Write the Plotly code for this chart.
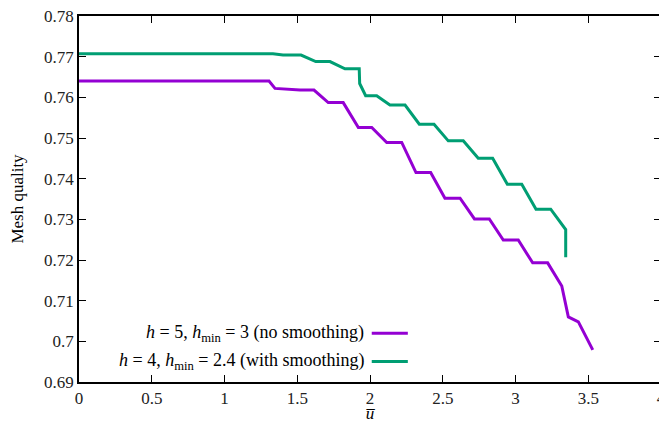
import plotly.graph_objects as go

# h = 5, hmin = 3 (no smoothing)
u_a = [0.0, 1.306, 1.347, 1.519, 1.615, 1.713, 1.816, 1.920, 2.012, 2.115, 2.218,
       2.316, 2.417, 2.515, 2.619, 2.718, 2.820, 2.916, 3.019, 3.118, 3.221,
       3.318, 3.363, 3.432, 3.531]
q_a = [0.7640, 0.7640, 0.7622, 0.7618, 0.7618, 0.7587, 0.7587, 0.7526, 0.7526,
       0.7489, 0.7489, 0.7415, 0.7415, 0.7352, 0.7352, 0.7301, 0.7301, 0.7249,
       0.7249, 0.7193, 0.7193, 0.7136, 0.7060, 0.7048, 0.6979]

# h = 4, hmin = 2.4 (with smoothing)
u_b = [0.0, 1.333, 1.402, 1.526, 1.627, 1.725, 1.828, 1.926, 1.929, 1.970, 2.046,
       2.137, 2.241, 2.339, 2.440, 2.538, 2.641, 2.744, 2.843, 2.944, 3.043,
       3.141, 3.242, 3.345, 3.345]
q_b = [0.7707, 0.7707, 0.7704, 0.7704, 0.7688, 0.7688, 0.7670, 0.7670, 0.7634,
       0.7604, 0.7604, 0.7581, 0.7581, 0.7534, 0.7534, 0.7493, 0.7493, 0.7450,
       0.7450, 0.7386, 0.7386, 0.7325, 0.7325, 0.7275, 0.7207]

names = ["<i>h</i> = 5, <i>h</i><sub>min</sub> = 3 (no smoothing)",
         "<i>h</i> = 4, <i>h</i><sub>min</sub> = 2.4 (with smoothing)"]
colors = ["#9400D3", "#009E73"]

x_ticks = [0, 0.5, 1, 1.5, 2, 2.5, 3, 3.5, 4]
x_labels = ["0", "0.5", "1", "1.5", "2", "2.5", "3", "3.5", "4"]
y_ticks = [0.69, 0.70, 0.71, 0.72, 0.73, 0.74, 0.75, 0.76, 0.77, 0.78]
y_labels = ["0.69", "0.7", "0.71", "0.72", "0.73", "0.74", "0.75", "0.76", "0.77", "0.78"]

FONT = "Liberation Serif"
FS = 17

fig = go.Figure()
for xs, ys, c in [(u_a, q_a, colors[0]), (u_b, q_b, colors[1])]:
    fig.add_trace(go.Scatter(x=xs, y=ys, mode="lines",
                             line=dict(color=c, width=3), showlegend=False))

# custom legend: text right-aligned, sample line to the right
for i, (nm, c) in enumerate(zip(names, colors)):
    ypos = 0.133 - i * 0.077
    fig.add_annotation(text=nm, xref="paper", yref="paper", x=0.493, y=ypos,
                       xanchor="right", yanchor="middle", showarrow=False,
                       font=dict(family=FONT, size=18, color="black"))
    fig.add_shape(type="line", xref="paper", yref="paper",
                  x0=0.503, x1=0.565, y0=ypos, y1=ypos,
                  line=dict(color=c, width=3))

axis_common = dict(showgrid=False, zeroline=False, showline=True, linecolor="black",
                   linewidth=1.5, mirror="allticks", ticks="inside", ticklen=7,
                   tickcolor="black", tickwidth=1, automargin=False,
                   ticklabeloverflow="allow",
                   tickfont=dict(family=FONT, size=FS, color="#222"))

fig.update_xaxes(range=[0, 4], tickvals=x_ticks, ticktext=x_labels,
                 title=dict(text="<i>u̅</i>", font=dict(family=FONT, size=FS, color="black"),
                            standoff=2),
                 **axis_common)
fig.update_yaxes(range=[0.69, 0.78], tickvals=y_ticks, ticktext=y_labels,
                 title=dict(text="Mesh quality", font=dict(family=FONT, size=FS, color="black"),
                            standoff=16),
                 **axis_common)

# page body has an 8px margin; compensate so the plot area lands where the reference has it
fig.update_layout(width=659, height=415, plot_bgcolor="white", paper_bgcolor="white",
                  margin=dict(l=71, r=6, t=8, b=41), showlegend=False)

fig.write_html("out.html")
